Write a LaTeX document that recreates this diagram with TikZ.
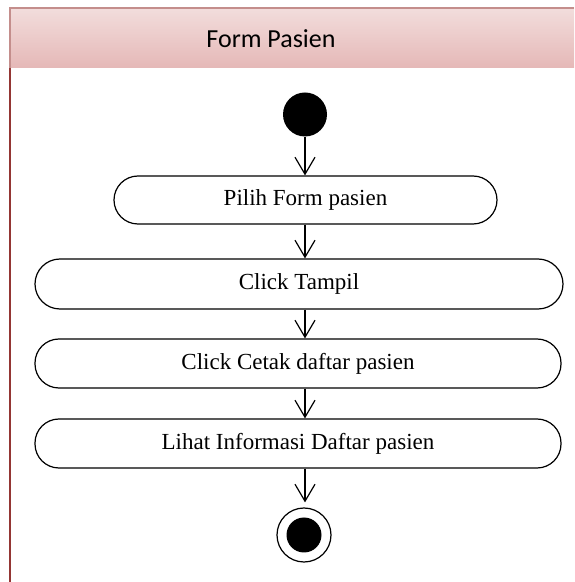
\documentclass[tikz,border=0pt]{standalone}
\usepackage{fontspec}
\setmainfont{Liberation Serif}
\newfontfamily\titlefont{Carlito}
\usepackage{tikz}
\usepackage{xcolor}
\usetikzlibrary{shapes.geometric, positioning, arrows, arrows.meta}
\definecolor{lanetop}{RGB}{242,221,220}
\definecolor{lanebot}{RGB}{229,184,183}
\definecolor{laneedge}{RGB}{196,142,140}
\definecolor{laneline}{RGB}{148,54,52}
\tikzset{activity/.style={draw, line width=1.2pt, rounded corners=24pt, minimum height=48pt, inner sep=0pt, font=\fontsize{23}{26}\selectfont},
flow/.style={line width=1.2pt, -{Straight Barb[length=17pt,width=20pt]}}}

\begin{document}
\begin{tikzpicture}[x=1pt,y=1pt]
\useasboundingbox (0,0) rectangle (574,582);
% swimlane
\shade[top color=lanetop, bottom color=lanebot] (10,514) rectangle (574,574);
\draw[laneedge, line width=1.5pt] (10,514) -- (10,574) -- (574,574);
\draw[laneline, line width=2pt] (10,0) -- (10,514);
\node[font=\titlefont\fontsize{26}{30}\selectfont] (lane) at (271,543) {Form Pasien};
% start and activities
\node[circle, fill=black, minimum size=44pt, inner sep=0pt] (start) at (305,467.5) {};
\node[activity, minimum width=383pt] (pilih) at (305.5,382) {Pilih Form pasien};
\node[activity, minimum width=528pt, minimum height=50pt, rounded corners=25pt] (tampil) at (299,298) {Click Tampil};
\node[activity, minimum width=526pt, minimum height=49pt] (cetak) at (298,218.5) {Click Cetak daftar pasien};
\node[activity, minimum width=526pt, minimum height=49pt] (lihat) at (298,138.5) {Lihat Informasi Daftar pasien};
% end
\node[circle, draw, line width=1.2pt, minimum size=54pt, inner sep=0pt] (stop) at (304,47) {};
\node[circle, fill=black, minimum size=35pt, inner sep=0pt] (stopdot) at (stop) {};
% flows
\draw[flow] (start.south) -- (pilih.north -| start);
\draw[flow] (pilih.south -| start) -- (tampil.north -| start);
\draw[flow] (tampil.south -| start) -- (cetak.north -| start);
\draw[flow] (cetak.south -| start) -- (lihat.north -| start);
\draw[flow] (lihat.south -| start) -- ([yshift=5pt]stop.north -| start);
\end{tikzpicture}
\end{document}
